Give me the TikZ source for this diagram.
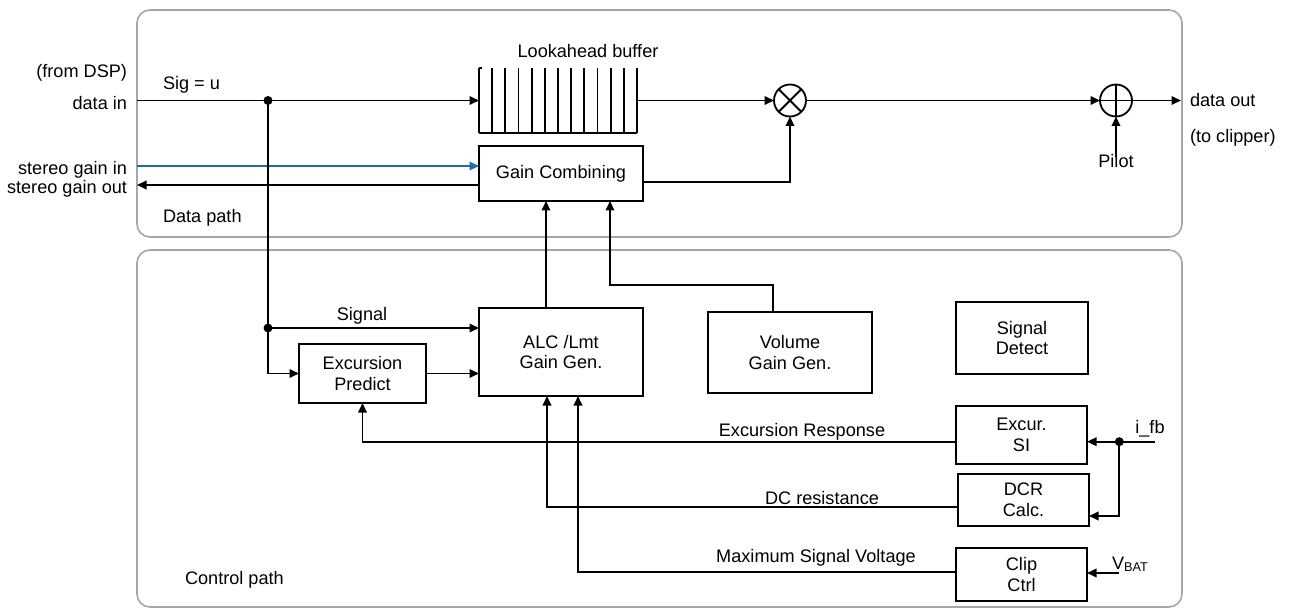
\documentclass[tikz,border=0pt]{standalone}
\usepackage{fontspec}
\setmainfont{Liberation Sans}
\usetikzlibrary{arrows.meta,calc}
\definecolor{framegray}{HTML}{A6A6A6}
\definecolor{sgblue}{HTML}{1E6BB8}
\tikzset{
  every node/.style={font=\fontsize{18.2}{21}\selectfont, inner sep=0pt, outer sep=0pt},
  blk/.style={draw, line width=1.8bp, align=center},
  conn/.style={line width=1.8bp},
  arr/.style={conn, -{Triangle[length=9.5bp,width=8.5bp]}},
  frame/.style={draw=framegray, line width=1.6bp, rounded corners=13bp},
  jdot/.style={circle, fill, minimum size=9bp},
  opcirc/.style={circle, draw, line width=1.8bp, minimum size=32bp},
}
\begin{document}
\begin{tikzpicture}[x=1bp,y=-1bp]
\useasboundingbox (0,0) rectangle (1290,609);
% frames
\draw[frame] (137,10) rectangle (1182,237);
\draw[frame] (137,250) rectangle (1182,607);

% data path blocks
\node[minimum width=158bp, minimum height=65bp] (buf) at (558,100.5) {};
\foreach \k in {0,...,12}
  \draw[conn] ($(buf.south west)!\k/12!(buf.south east)$) -- ($(buf.north west)!\k/12!(buf.north east)$);
\draw[conn] (buf.south west) -- (buf.south east);
\draw[conn] (buf.north west) -- ++(3,0);
\node[anchor=base] (buflbl) at (588,58) {Lookahead buffer};

\node[opcirc] (mul) at (790,100.5) {};
\draw[conn] (mul.north west) -- (mul.south east) (mul.north east) -- (mul.south west);
\node[opcirc] (add) at (1116,100.5) {};
\draw[conn] (add.north) -- (add.south) (add.west) -- (add.east);

\node[blk, minimum width=164bp, minimum height=55bp] (gc) at (561,173.5) {Gain Combining};

% control path blocks
\node[blk, minimum width=164bp, minimum height=88bp] (alc) at (561,352) {ALC /Lmt\\Gain Gen.};
\node[blk, minimum width=127bp, minimum height=59bp] (ep) at (362.5,373.5) {Excursion\\Predict};
\node[blk, minimum width=164bp, minimum height=81bp] (vol) at (790,352.5) {Volume\\Gain Gen.};
\node[blk, minimum width=132bp, minimum height=72bp] (sd) at (1022,338) {Signal\\Detect};
\node[blk, minimum width=131bp, minimum height=58bp] (esi) at (1021.5,435) {Excur.\\SI};
\node[blk, minimum width=131bp, minimum height=52bp] (dcr) at (1023.5,500) {DCR\\Calc.};
\node[blk, minimum width=131bp, minimum height=53bp] (clip) at (1021.5,574.5) {Clip\\Ctrl};

% left labels
\node[anchor=base east] (fromdsp) at (127,78) {(from DSP)};
\node[anchor=base east] (datain) at (127,110) {data in};
\node[anchor=base east] (sgin) at (127,175) {stereo gain in};
\node[anchor=base east] (sgout) at (127,194) {stereo gain out};
\node[anchor=base west] (sig) at (163,90) {Sig = u};
\node[anchor=base west] (dpath) at (163,223) {Data path};
\node[anchor=base west] (cpath) at (185,584) {Control path};
\node[anchor=base west] (dout) at (1190,107) {data out};
\node[anchor=base west] (toclip) at (1190,143) {(to clipper)};
\node[anchor=base] (pilot) at (1116,168) {Pilot};
\node[anchor=base] (siglbl) at (362,321) {Signal};
\node[anchor=base] (erlbl) at (802,436) {Excursion Response};
\node[anchor=base] (dclbl) at (822,504) {DC resistance};
\node[anchor=base] (mslbl) at (816,562) {Maximum Signal Voltage};
\node[anchor=base] (ifblbl) at (1150,433) {i\_fb};
\node[anchor=base west] (vbat) at (1112,569) {V\textsubscript{BAT}};

% coordinates
\coordinate (din) at (137,100.5);
\coordinate (dout0) at (1181,100.5);
\coordinate (bluein) at (137,166);
\coordinate (gout) at (137,185);
\coordinate (pil) at (1116,157);
\coordinate (ifb) at (1155,441.7);
\coordinate (vb) at (1119,573);
\node[jdot] (j1) at (268,100.5) {};
\node[jdot] (j2) at (268,328) {};
\node[jdot] (j3) at (1119.3,441.7) {};

% data path connectors
\draw[arr] (din) -- (buf.west);
\draw[arr] (buf.east) -- (mul.west);
\draw[arr] (mul.east) -- (add.west);
\draw[arr] (add.east) -- (dout0);
\draw[arr] (pil) -- (add.south);
\draw[arr, draw=sgblue, fill=sgblue] (bluein) -- (bluein -| gc.west);
\draw[arr] (gout -| gc.west) -- (gout);
\draw[arr] ($(gc.east)+(0,8.5)$) -| (mul.south);

% signal split
\draw[arr] (j1.center) |- (ep.west);
\draw[arr] (j2.center) -- (j2 -| alc.west);
\draw[arr] (ep.east) -- (ep.east -| alc.west);
\draw[arr] ($(alc.north)+(-15,0)$) -- ($(gc.south)+(-15,0)$);
\draw[arr] ($(vol.north)+(-17,0)$) -- ++(0,-27) -| ($(gc.south)+(49,0)$);

% feedback lines
\draw[arr] (esi.west |- ifb) -| (ep.south);
\draw[arr] ($(dcr.west)+(0,6.7)$) -| ($(alc.south)+(-14,0)$);
\draw[arr] ($(clip.west)+(0,-2.8)$) -| ($(alc.south)+(17,0)$);
\draw[arr] (ifb) -- (esi.east |- ifb);
\draw[arr] (j3.center) |- ($(dcr.east)+(0,16)$);
\draw[arr] (vb) -- (vb -| clip.east);
\end{tikzpicture}
\end{document}
